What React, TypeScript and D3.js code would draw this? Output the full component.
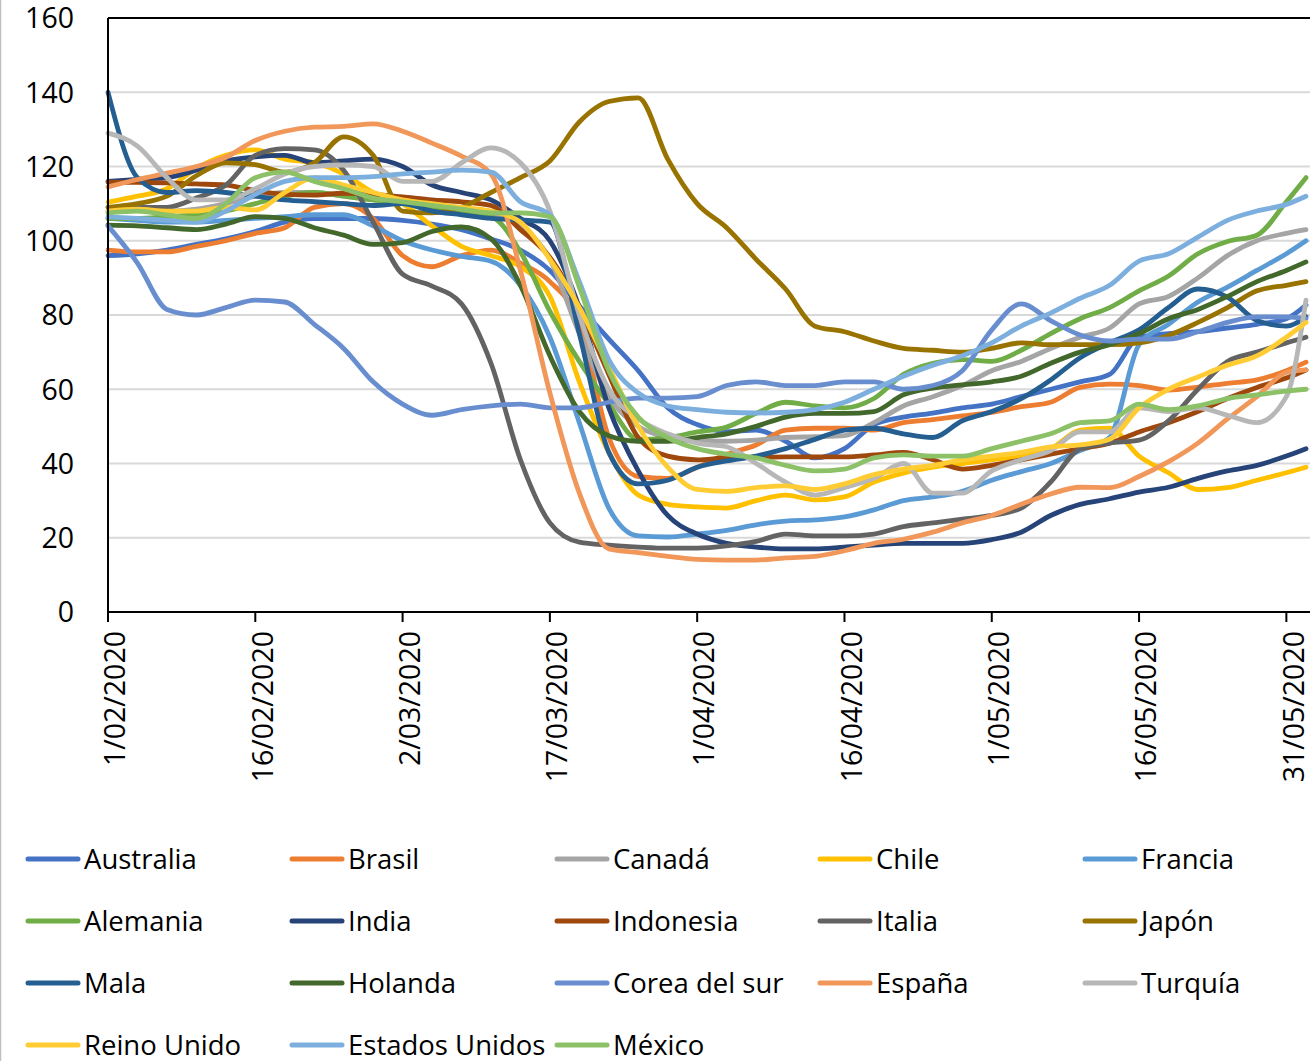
import * as d3 from "d3";

// day offsets from 1 Feb 2020 at which values were read
const sampleDays = [
  0, 3, 6, 9, 12, 15, 18, 21, 24, 27, 30, 33, 36, 39, 42, 45, 48, 51, 54, 57, 60,
  63, 66, 69, 72, 75, 78, 81, 84, 87, 90, 93, 96, 99, 102, 105, 108, 111, 114, 117, 120, 122,
];
const tickDays = [0, 15, 30, 45, 60, 75, 90, 105, 120];
const yTicks = [0, 20, 40, 60, 80, 100, 120, 140, 160];

const australia = [96, 96.5, 97.5, 99, 100.5, 102.5, 105, 106, 106, 106, 105.5, 104.5, 103, 100.5, 97.5, 92, 82.5, 73.5, 65, 55, 50.5, 48.6, 49, 46, 41.5, 44, 50.5, 52.5, 53.6, 55, 56, 58, 60, 62, 64, 74, 75, 75.5, 76.5, 77.5, 79, 82.7];
const brasil = [97.5, 97, 97, 98.5, 100, 102, 103.5, 109, 110, 106, 96, 93, 96, 97.5, 94, 89, 78, 47, 36.5, 36, 39, 42.5, 45, 49, 49.5, 49.5, 49, 51, 51.8, 52.8, 53.8, 55.3, 56.5, 60.5, 61.4, 61, 59.8, 60.6, 61.6, 62.5, 65, 67.3];
const canada = [108, 108.5, 108, 108.5, 110, 112, 113, 113, 112, 111, 110, 109, 108.5, 107, 104, 95, 75, 58, 50, 47, 46, 46, 46.3, 47, 47.2, 47.5, 51, 55.5, 58, 61, 65, 67.5, 71, 74, 76.5, 83, 85, 90, 96, 100, 102, 103];
const chile = [110.4, 112, 114, 119.5, 123, 124.5, 122, 121, 118, 113, 110, 104, 98.5, 96, 93, 85, 62, 43, 31.5, 29, 28.3, 28, 30, 31.5, 30.2, 31, 35, 37.4, 39, 40, 41, 42, 44, 49, 49.5, 42, 37.5, 33, 33.5, 35.5, 37.5, 39];
const francia = [106, 105.5, 105, 105, 105.5, 106, 106.5, 107, 107, 104, 100, 97.5, 95.8, 94.5, 88, 74, 51, 28, 20.5, 20.2, 21, 22, 23.5, 24.5, 24.8, 25.6, 27.5, 30, 31, 32.5, 35.5, 37.8, 40, 43.5, 47, 72, 77.5, 83.5, 87.5, 92, 96.5, 100];
const alemania = [106, 106, 106.5, 107, 108, 110, 112, 113, 112, 111, 110, 108.5, 107.5, 106.5, 97, 81, 67.5, 56, 46.5, 47, 48.5, 49.8, 53.5, 56.5, 55.5, 55, 57.5, 64, 67, 68, 67.5, 70.5, 75, 79, 82, 86.5, 90.5, 96.5, 99.8, 101.5, 110.5, 117];
const india = [116, 116.5, 117, 119, 121.5, 122.6, 123, 121, 121.5, 122, 120, 115, 113, 111, 106, 100, 82, 55, 38, 26, 21, 18.5, 17.5, 17, 17, 17.5, 18, 18.5, 18.5, 18.5, 19.5, 21.5, 26, 29, 30.5, 32.3, 33.6, 36, 38, 39.5, 42, 44];
const indonesia = [115.8, 115.7, 115.6, 115.3, 115, 113.5, 112.5, 112.3, 112.8, 112.5, 111.8, 111, 110.5, 109.5, 103, 95.5, 82, 64, 47, 42, 41, 41.5, 41.6, 41.8, 41.8, 41.8, 42.3, 43, 41, 38.5, 39.5, 41, 42.5, 44, 45.5, 48.5, 51, 54, 57.5, 60.5, 63, 65.2];
const italia = [109, 109, 109, 111.5, 115, 123, 124.8, 124.5, 119, 105, 91, 87.8, 83, 67, 41, 24, 18.8, 18, 17.5, 17.2, 17.2, 17.8, 19, 21, 20.5, 20.5, 21, 23, 24, 25, 26, 28, 35, 44, 45.5, 46.3, 51.5, 60, 67.5, 70, 72.5, 74];
const japon = [109, 110, 112, 117.5, 121, 120.5, 118.5, 121, 128, 123, 108, 107.5, 109, 113, 117, 121.5, 132, 137.5, 138.5, 122, 110, 103.5, 95, 87, 77, 75.5, 73, 71, 70.5, 70, 71, 72.5, 72, 72, 72, 72.5, 74.5, 78, 82, 86.5, 88, 89];
const mala = [140, 117, 113, 113.5, 113, 112, 111, 110.5, 110, 109.5, 110, 108, 107, 106, 105.6, 105, 75, 43, 34.5, 35.5, 39, 40.7, 42, 44, 46.5, 49, 49.5, 48, 47, 51.5, 54, 57.5, 62.5, 68.5, 72.5, 76, 82, 87, 84.8, 78.5, 77, 79.5];
const holanda = [104.2, 104, 103.5, 103, 104.5, 106.5, 106, 103.5, 101.5, 99, 99.5, 102.5, 103.7, 100.5, 88, 69, 54, 47.5, 46, 46, 47, 48, 50, 52.5, 53.5, 53.5, 54, 58.5, 60.3, 61.2, 62, 63.5, 67, 70, 72, 75, 79, 81.5, 85, 89, 92, 94.3];
const corea = [104, 94, 81.5, 80, 82, 84, 83.5, 77.5, 71, 62, 56, 53, 54.5, 55.5, 56, 55, 55, 56.5, 57.6, 57.6, 58, 61, 62, 61, 61, 62, 62, 60, 61, 65, 76, 83, 78.5, 74.6, 73, 73.5, 73.5, 75.5, 78, 79.5, 79.5, 79];
const espana = [114.5, 116.5, 118.2, 120, 122.5, 127, 129.5, 130.6, 130.8, 131.5, 129.5, 126.3, 122.8, 118, 92, 59, 32, 17, 16, 15, 14.2, 14, 14, 14.6, 15, 16.5, 18.5, 19.6, 21.5, 24, 26, 29, 31.8, 33.6, 33.5, 36.5, 40.5, 45.5, 52, 58, 64.5, 65.2];
const turquia = [129, 125.5, 117, 111, 111, 114, 118, 120, 120.4, 120, 116, 116, 121, 125, 121, 108, 80, 60, 52, 48, 45.5, 44.5, 40, 35, 31.5, 33.5, 36, 40, 32, 32, 38, 41, 43.5, 48.5, 48.5, 55, 54, 55, 53, 51, 58, 84];
const reinoUnido = [108, 108.5, 108, 108, 109, 108.3, 113, 117, 115, 113, 111, 110, 109, 108, 105, 95, 82, 66, 50, 39, 33, 32.5, 33.5, 34, 33, 34.5, 37, 38.5, 39.5, 41, 42, 43, 44.5, 45, 46.5, 55, 60, 63.3, 66.5, 69, 74, 78];
const estadosUnidos = [106.4, 106, 105.5, 105, 108, 112.5, 116, 117, 117, 117.3, 118, 118.5, 119, 118.5, 110.5, 107, 89, 68, 59, 55.5, 54.5, 53.8, 53.6, 53.8, 54.5, 56.5, 60, 63.5, 66.5, 69, 72.5, 77, 80.5, 84.5, 88, 94.5, 96.5, 101, 105.5, 108, 109.8, 112];
const mexico = [107.5, 108, 107, 106, 110, 117, 118.5, 116, 114, 111.5, 110.5, 109.5, 108.5, 107.5, 107.5, 106.5, 87.5, 65, 52.5, 47, 44, 42.5, 41.5, 39.5, 38, 38.5, 41.5, 42.3, 42, 42, 44, 46, 48, 51, 51.5, 56, 54.5, 55.5, 57.5, 58.5, 59.5, 60];

const series = [
  { name: "Australia", color: "#4472C4", values: australia },
  { name: "Brasil", color: "#ED7D31", values: brasil },
  { name: "Canadá", color: "#A5A5A5", values: canada },
  { name: "Chile", color: "#FFC000", values: chile },
  { name: "Francia", color: "#5B9BD5", values: francia },
  { name: "Alemania", color: "#70AD47", values: alemania },
  { name: "India", color: "#264478", values: india },
  { name: "Indonesia", color: "#9E480E", values: indonesia },
  { name: "Italia", color: "#636363", values: italia },
  { name: "Japón", color: "#997300", values: japon },
  { name: "Mala", color: "#255E91", values: mala },
  { name: "Holanda", color: "#43682B", values: holanda },
  { name: "Corea del sur", color: "#698ED0", values: corea },
  { name: "España", color: "#F1975A", values: espana },
  { name: "Turquía", color: "#B7B7B7", values: turquia },
  { name: "Reino Unido", color: "#FFCD33", values: reinoUnido },
  { name: "Estados Unidos", color: "#7CAFDD", values: estadosUnidos },
  { name: "México", color: "#8CC168", values: mexico },
];

const WIDTH = 1310;
const HEIGHT = 1061;
const FONT = "'Open Sans', sans-serif";
const margin = { top: 18, left: 108, bottom: 612, right: 1306 };

const dayToDate = (d: number) => new Date(Date.UTC(2020, 1, 1 + d));
const fmt = d3.utcFormat("%-d/%m/%Y");

export default function App() {
  const x = d3.scaleUtc().domain([dayToDate(0), dayToDate(122)]).range([margin.left, margin.right]);
  const y = d3.scaleLinear().domain([0, 160]).range([margin.bottom, margin.top]);
  const dates = sampleDays.map(dayToDate);
  const line = d3
    .line<number>()
    .x((_, i) => x(dates[i]))
    .y((v) => y(v))
    .curve(d3.curveMonotoneX);

  const legendCols = [26, 290, 555, 818, 1083];
  const legendRows = [859, 921, 983, 1045];

  return (
    <svg
      width={WIDTH}
      height={HEIGHT}
      style={{ position: "absolute", left: 0, top: 0, background: "#fff" }}
      fontFamily={FONT}
    >
      <line x1={0.5} x2={0.5} y1={0} y2={HEIGHT} stroke="#BFBFBF" strokeWidth={1.5} />

      {yTicks.slice(1, -1).map((t) => (
        <line key={t} x1={margin.left} x2={WIDTH} y1={y(t)} y2={y(t)} stroke="#D9D9D9" strokeWidth={2} />
      ))}

      {series.map((s) => (
        <path
          key={s.name}
          d={line(s.values) ?? ""}
          fill="none"
          stroke={s.color}
          strokeWidth={4.8}
          strokeLinejoin="round"
          strokeLinecap="round"
        />
      ))}

      {/* plot frame */}
      <line x1={margin.left} x2={WIDTH} y1={margin.top} y2={margin.top} stroke="#000" strokeWidth={2} />
      <line x1={margin.left} x2={margin.left} y1={margin.top} y2={margin.bottom} stroke="#000" strokeWidth={2} />
      <line x1={margin.left - 1} x2={WIDTH} y1={margin.bottom} y2={margin.bottom} stroke="#000" strokeWidth={2} />

      {yTicks.map((t) => (
        <text key={t} x={74} y={y(t)} dy="0.36em" textAnchor="end" fontSize={28.5} fill="#000">
          {t}
        </text>
      ))}

      {tickDays.map((d) => {
        const tx = x(dayToDate(d));
        return (
          <g key={d}>
            <line x1={tx} x2={tx} y1={margin.bottom} y2={margin.bottom + 10} stroke="#000" strokeWidth={2} />
            <text
              transform={`translate(${tx + 7},${margin.bottom + 19}) rotate(-90)`}
              dy="0.36em"
              textAnchor="end"
              fontSize={28.5}
              fill="#000"
            >
              {fmt(dayToDate(d))}
            </text>
          </g>
        );
      })}

      {series.map((s, i) => {
        const lx = legendCols[i % 5];
        const ly = legendRows[Math.floor(i / 5)];
        return (
          <g key={s.name} transform={`translate(${lx},${ly})`}>
            <line x1={2} x2={52} y1={0} y2={0} stroke={s.color} strokeWidth={5} strokeLinecap="round" />
            <text x={58} y={0} dy="0.36em" fontSize={27.5} fill="#000">
              {s.name}
            </text>
          </g>
        );
      })}
    </svg>
  );
}
